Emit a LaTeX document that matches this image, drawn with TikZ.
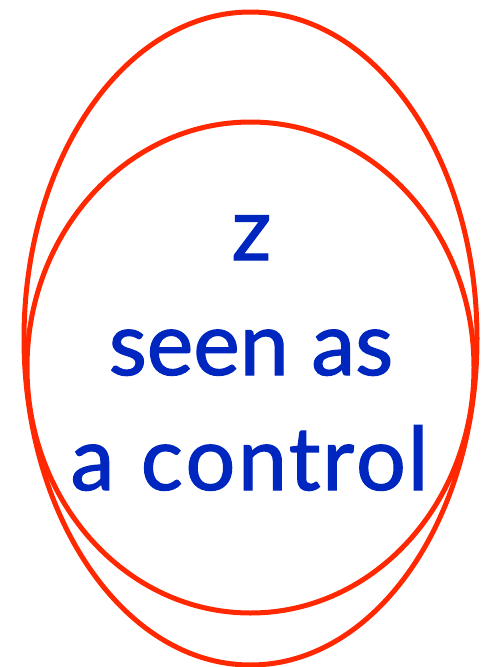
\documentclass[tikz,border=0pt]{standalone}
\usepackage{fontspec}
\setmainfont{Lato}[FakeBold=1.4]
\usepackage{xcolor}
\usetikzlibrary{positioning}
\definecolor{ringred}{RGB}{255,40,0}
\definecolor{textblue}{RGB}{0,38,192}

\begin{document}
\begin{tikzpicture}[
  x=1pt, y=1pt,
  ring/.style={draw=ringred, line width=5pt},
  word/.style={anchor=base, text=textblue, inner sep=0pt, font=\fontsize{88}{100}\selectfont}
]
  \useasboundingbox (0,0) rectangle (493,-667);

  % Outer ellipse
  \draw[ring] (250.5,-338.5) ellipse [x radius=226.5, y radius=326.5];

  % Inner ellipse
  \draw[ring] (250.5,-367.5) ellipse [x radius=223.5, y radius=245.5];

  % Label
  \node[word] (z) at (251.5,-260) {z};
  \node[word] (seen) at (251,-375) {seen as};
  \node[word] (ctrl) at (249.5,-490) {a\hspace{0.3em}c\hspace{0.03em}o\hspace{0.03em}n\hspace{0.02em}t\hspace{0.02em}r\hspace{0.02em}o\hspace{0.02em}l};
\end{tikzpicture}
\end{document}
